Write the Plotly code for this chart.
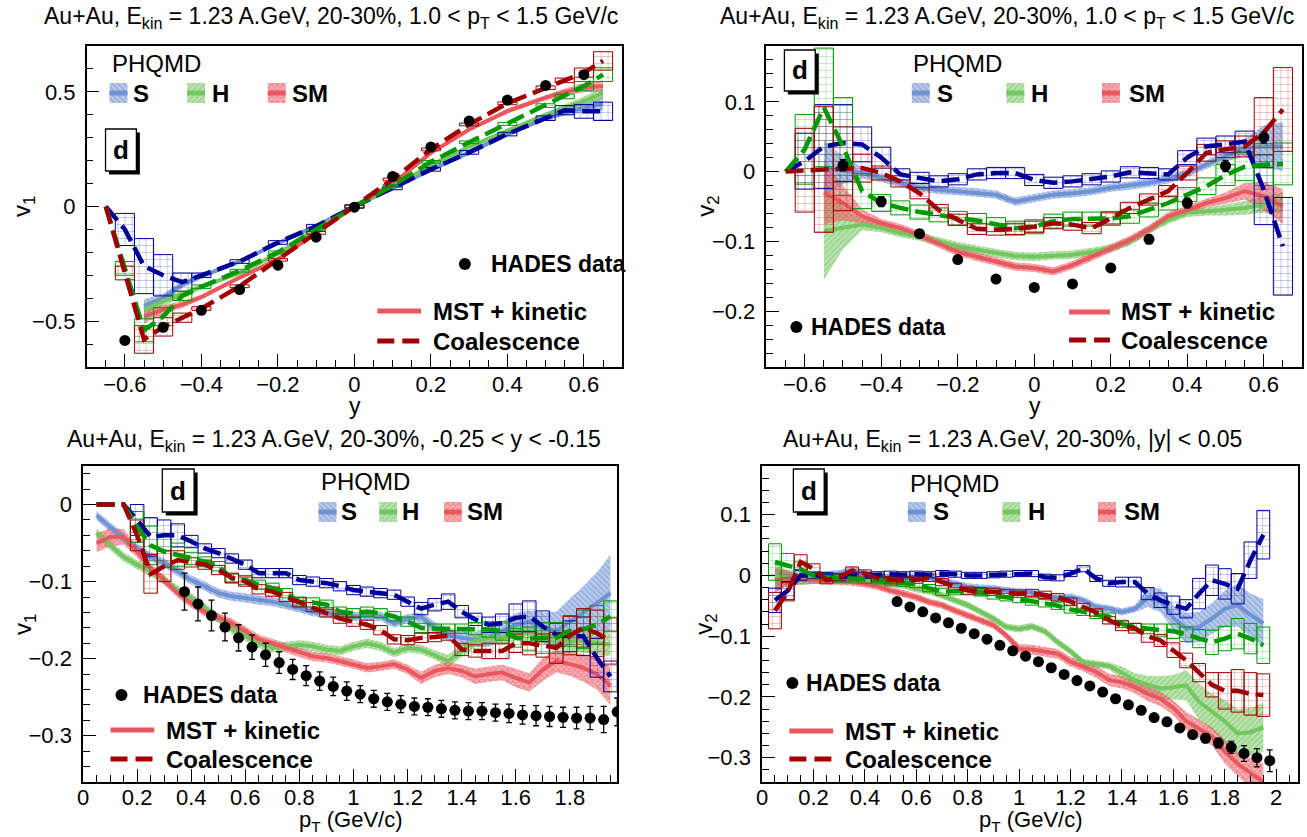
import plotly.graph_objects as go

W, H = 1307, 837
FONT = "Liberation Sans, Arial, Helvetica, sans-serif"

S_LIGHT, H_LIGHT, SM_LIGHT = '#6e92d4', '#74c660', '#e9585f'
S_BG, H_BG, SM_BG = 'rgba(110,146,212,0.45)', 'rgba(116,198,96,0.45)', 'rgba(233,88,95,0.45)'
S_DARK, H_DARK, SM_DARK = '#000099', '#009900', '#a00000'

# ---------------- Panel 1 : v1 vs y, 1.0 < pT < 1.5 ----------------
p1_coal_x = [-0.65, -0.6, -0.55, -0.5, -0.45, -0.4, -0.3, -0.2, -0.1, 0.0, 0.1, 0.2, 0.3, 0.4, 0.5, 0.55, 0.6, 0.65]
p1_s_coal = [0.0, -0.10, -0.26, -0.30, -0.33, -0.30, -0.24, -0.157, -0.086, 0.0, 0.081, 0.162, 0.236, 0.316, 0.385, 0.42, 0.415, 0.415]
p1_s_coal_err = [0.0, 0.07, 0.12, 0.09, 0.04, 0.01, 0.008, 0.008, 0.008, 0.008, 0.008, 0.008, 0.008, 0.008, 0.01, 0.02, 0.03, 0.04]
p1_h_coal = [0.0, -0.27, -0.54, -0.48, -0.39, -0.35, -0.28, -0.20, -0.10, 0.0, 0.09, 0.195, 0.28, 0.36, 0.44, 0.48, 0.525, 0.575]
p1_h_coal_err = [0.0, 0.03, 0.05, 0.04, 0.02, 0.008, 0.006, 0.006, 0.006, 0.006, 0.006, 0.006, 0.006, 0.006, 0.008, 0.01, 0.02, 0.03]
p1_sm_coal = [0.0, -0.29, -0.58, -0.525, -0.485, -0.445, -0.348, -0.232, -0.115, 0.0, 0.118, 0.249, 0.358, 0.45, 0.518, 0.55, 0.584, 0.635]
p1_sm_coal_err = [0.0, 0.03, 0.06, 0.04, 0.02, 0.008, 0.006, 0.006, 0.006, 0.006, 0.006, 0.006, 0.006, 0.006, 0.008, 0.01, 0.02, 0.04]
p1_mst_x = [-0.55, -0.5, -0.45, -0.4, -0.3, -0.2, -0.1, 0.0, 0.1, 0.2, 0.3, 0.4, 0.5, 0.55, 0.6, 0.65]
p1_s_mst = [-0.435, -0.40, -0.34, -0.305, -0.24, -0.16, -0.085, 0.0, 0.08, 0.16, 0.235, 0.315, 0.385, 0.41, 0.43, 0.45]
p1_s_mst_err = [0.03, 0.02, 0.015, 0.01, 0.008, 0.008, 0.008, 0.008, 0.008, 0.008, 0.008, 0.01, 0.01, 0.015, 0.02, 0.03]
p1_h_mst = [-0.45, -0.413, -0.384, -0.35, -0.29, -0.205, -0.10, 0.0, 0.085, 0.18, 0.26, 0.33, 0.40, 0.43, 0.46, 0.495]
p1_h_mst_err = [0.03, 0.02, 0.015, 0.01, 0.008, 0.008, 0.008, 0.008, 0.008, 0.008, 0.008, 0.01, 0.01, 0.015, 0.02, 0.025]
p1_sm_mst = [-0.48, -0.45, -0.428, -0.395, -0.31, -0.23, -0.115, 0.0, 0.10, 0.234, 0.336, 0.416, 0.475, 0.50, 0.518, 0.525]
p1_sm_mst_err = [0.03, 0.02, 0.015, 0.01, 0.008, 0.008, 0.008, 0.008, 0.008, 0.008, 0.008, 0.01, 0.01, 0.015, 0.02, 0.025]
p1_hades_x = [-0.6, -0.5, -0.4, -0.3, -0.2, -0.1, 0.0, 0.1, 0.2, 0.3, 0.4, 0.5, 0.6]
p1_hades_v = [-0.584, -0.527, -0.453, -0.362, -0.256, -0.134, -0.003, 0.131, 0.259, 0.373, 0.464, 0.528, 0.575]
p1_hades_err = [0.012, 0.01, 0.01, 0.008, 0.008, 0.008, 0.008, 0.008, 0.008, 0.008, 0.01, 0.01, 0.012]

# ---------------- Panel 2 : v2 vs y, 1.0 < pT < 1.5 ----------------
p2_coal_x = [-0.65, -0.6, -0.55, -0.5, -0.45, -0.4, -0.35, -0.3, -0.25, -0.2, -0.15, -0.1, -0.05, 0.0,
             0.05, 0.1, 0.15, 0.2, 0.25, 0.3, 0.35, 0.4, 0.45, 0.5, 0.55, 0.6, 0.65]
p2_s_coal = [0.0, 0.015, 0.036, 0.041, 0.039, 0.020, -0.004, -0.009, -0.014, -0.011, -0.004, -0.002, -0.002, -0.012,
             -0.016, -0.014, -0.011, -0.007, -0.001, -0.002, -0.004, 0.020, 0.036, 0.039, 0.043, -0.026, -0.107]
p2_s_coal_err = [0.0, 0.04, 0.06, 0.055, 0.025, 0.015, 0.008, 0.008, 0.008, 0.008, 0.008, 0.008, 0.008, 0.008,
                 0.008, 0.008, 0.008, 0.008, 0.008, 0.008, 0.008, 0.01, 0.012, 0.012, 0.015, 0.05, 0.07]
p2_h_coal = [0.0, 0.032, 0.092, 0.036, -0.028, -0.045, -0.052, -0.058, -0.062, -0.067, -0.070, -0.076, -0.081, -0.079,
             -0.071, -0.068, -0.068, -0.067, -0.064, -0.055, -0.045, -0.033, -0.021, -0.005, 0.007, 0.010, 0.011]
p2_h_coal_err = [0.0, 0.05, 0.085, 0.07, 0.025, 0.012, 0.01, 0.01, 0.01, 0.01, 0.01, 0.01, 0.01, 0.01,
                 0.01, 0.01, 0.01, 0.01, 0.01, 0.01, 0.01, 0.01, 0.012, 0.015, 0.02, 0.03, 0.03]
p2_sm_coal = [0.0, 0.002, 0.003, 0.004, 0.005, -0.002, -0.014, -0.031, -0.055, -0.069, -0.082, -0.083, -0.082, -0.079,
              -0.074, -0.076, -0.081, -0.067, -0.052, -0.040, -0.028, -0.002, 0.027, 0.032, 0.036, 0.056, 0.089]
p2_sm_coal_err = [0.0, 0.06, 0.09, 0.06, 0.02, 0.01, 0.008, 0.008, 0.008, 0.008, 0.008, 0.008, 0.008, 0.008,
                  0.008, 0.008, 0.008, 0.008, 0.008, 0.008, 0.008, 0.01, 0.012, 0.012, 0.015, 0.05, 0.06]
p2_mst_x = [-0.55, -0.5, -0.45, -0.4, -0.35, -0.3, -0.25, -0.2, -0.15, -0.1, -0.05, 0.0,
            0.05, 0.1, 0.15, 0.2, 0.25, 0.3, 0.35, 0.4, 0.45, 0.5, 0.55, 0.6, 0.65]
p2_s_mst = [0.005, 0.002, -0.002, -0.009, -0.016, -0.023, -0.026, -0.028, -0.030, -0.033, -0.043, -0.038,
            -0.033, -0.031, -0.028, -0.023, -0.020, -0.016, -0.011, -0.002, 0.010, 0.022, 0.034, 0.036, 0.036]
p2_s_mst_err = [0.04, 0.02, 0.008, 0.006, 0.006, 0.006, 0.006, 0.006, 0.006, 0.006, 0.006, 0.006,
                0.006, 0.006, 0.006, 0.006, 0.006, 0.006, 0.006, 0.006, 0.006, 0.008, 0.012, 0.03, 0.035]
p2_h_mst = [-0.085, -0.081, -0.076, -0.081, -0.088, -0.093, -0.100, -0.107, -0.112, -0.117, -0.121, -0.122,
            -0.120, -0.119, -0.115, -0.110, -0.100, -0.083, -0.069, -0.059, -0.057, -0.055, -0.052, -0.047, -0.045]
p2_h_mst_err = [0.07, 0.03, 0.008, 0.006, 0.006, 0.006, 0.006, 0.006, 0.006, 0.006, 0.006, 0.006,
                0.006, 0.006, 0.006, 0.006, 0.006, 0.006, 0.006, 0.006, 0.006, 0.008, 0.01, 0.012, 0.015]
p2_sm_mst = [-0.03, -0.045, -0.064, -0.074, -0.081, -0.091, -0.103, -0.115, -0.122, -0.129, -0.136, -0.138,
             -0.143, -0.134, -0.122, -0.110, -0.098, -0.083, -0.064, -0.055, -0.045, -0.038, -0.028, -0.035, -0.050]
p2_sm_mst_err = [0.045, 0.025, 0.01, 0.006, 0.006, 0.006, 0.006, 0.006, 0.006, 0.006, 0.006, 0.006,
                 0.006, 0.006, 0.006, 0.006, 0.006, 0.006, 0.006, 0.006, 0.006, 0.008, 0.012, 0.02, 0.025]
p2_hades_x = [-0.5, -0.4, -0.3, -0.2, -0.1, 0.0, 0.1, 0.2, 0.3, 0.4, 0.5, 0.6]
p2_hades_v = [0.009, -0.043, -0.089, -0.126, -0.154, -0.166, -0.161, -0.138, -0.097, -0.045, 0.008, 0.049]
p2_hades_err = [0.008, 0.007, 0.006, 0.005, 0.005, 0.005, 0.005, 0.005, 0.006, 0.007, 0.008, 0.008]

# ---------------- Panel 3 : v1 vs pT, -0.25 < y < -0.15 ----------------
pt_x = [0.05, 0.1, 0.15, 0.2, 0.25, 0.3, 0.35, 0.4, 0.45, 0.5, 0.55, 0.6, 0.65, 0.7, 0.75, 0.8, 0.85, 0.9, 0.95, 1.0,
        1.05, 1.1, 1.15, 1.2, 1.25, 1.3, 1.35, 1.4, 1.45, 1.5, 1.55, 1.6, 1.65, 1.7, 1.75, 1.8, 1.85, 1.9, 1.95]
p3_s_mst = [-0.014, -0.029, -0.044, -0.057, -0.068, -0.076, -0.087, -0.098, -0.106, -0.115,
            -0.119, -0.121, -0.124, -0.126, -0.130, -0.134, -0.139, -0.141, -0.143, -0.145,
            -0.145, -0.145, -0.154, -0.148, -0.146, -0.160, -0.169, -0.173, -0.175, -0.173,
            -0.164, -0.156, -0.152, -0.160, -0.164, -0.152, -0.141, -0.128, -0.115]
p3_s_mst_err = [0.006, 0.006, 0.006, 0.006, 0.006, 0.006, 0.006, 0.006, 0.006, 0.006,
                0.006, 0.006, 0.006, 0.006, 0.006, 0.006, 0.006, 0.006, 0.006, 0.006,
                0.006, 0.006, 0.006, 0.006, 0.006, 0.008, 0.008, 0.01, 0.01, 0.012,
                0.012, 0.015, 0.015, 0.02, 0.025, 0.03, 0.035, 0.04, 0.05]
p3_h_mst = [-0.037, -0.053, -0.068, -0.078, -0.087, -0.098, -0.111, -0.121, -0.134, -0.147,
            -0.162, -0.171, -0.180, -0.186, -0.184, -0.182, -0.184, -0.188, -0.190, -0.184,
            -0.180, -0.184, -0.192, -0.186, -0.188, -0.195, -0.203, -0.190, -0.177, -0.173,
            -0.173, -0.167, -0.167, -0.169, -0.173, -0.177, -0.177, -0.180, -0.182]
p3_h_mst_err = [0.006, 0.006, 0.006, 0.006, 0.006, 0.006, 0.006, 0.006, 0.006, 0.006,
                0.006, 0.006, 0.006, 0.006, 0.006, 0.006, 0.006, 0.006, 0.006, 0.006,
                0.006, 0.006, 0.006, 0.006, 0.006, 0.006, 0.008, 0.008, 0.008, 0.008,
                0.01, 0.01, 0.01, 0.01, 0.012, 0.015, 0.015, 0.015, 0.015]
p3_sm_mst = [-0.050, -0.042, -0.042, -0.061, -0.083, -0.098, -0.115, -0.128, -0.139, -0.147,
             -0.154, -0.164, -0.175, -0.180, -0.186, -0.192, -0.197, -0.199, -0.203, -0.207,
             -0.212, -0.210, -0.207, -0.214, -0.225, -0.216, -0.212, -0.216, -0.223, -0.220,
             -0.218, -0.225, -0.231, -0.214, -0.203, -0.207, -0.212, -0.220, -0.235]
p3_sm_mst_err = [0.012, 0.012, 0.01, 0.008, 0.006, 0.006, 0.006, 0.006, 0.006, 0.006,
                 0.006, 0.006, 0.006, 0.006, 0.006, 0.006, 0.006, 0.006, 0.006, 0.006,
                 0.006, 0.006, 0.006, 0.006, 0.008, 0.008, 0.008, 0.008, 0.01, 0.01,
                 0.01, 0.012, 0.012, 0.015, 0.015, 0.015, 0.018, 0.02, 0.025]
p3_s_coal = [0.0, 0.0, 0.0, -0.020, -0.042, -0.040, -0.040, -0.048, -0.057, -0.063,
             -0.070, -0.078, -0.089, -0.089, -0.089, -0.098, -0.100, -0.102, -0.106, -0.111,
             -0.113, -0.115, -0.117, -0.126, -0.135, -0.130, -0.126, -0.139, -0.149, -0.156,
             -0.154, -0.147, -0.145, -0.158, -0.169, -0.171, -0.171, -0.199, -0.223]
p3_s_coal_err = [0.0, 0.0, 0.0, 0.02, 0.025, 0.02, 0.015, 0.008, 0.006, 0.006,
                 0.006, 0.006, 0.006, 0.006, 0.006, 0.006, 0.006, 0.006, 0.006, 0.006,
                 0.006, 0.006, 0.006, 0.006, 0.008, 0.008, 0.01, 0.008, 0.008, 0.01,
                 0.012, 0.018, 0.02, 0.02, 0.015, 0.02, 0.025, 0.025, 0.02]
p3_h_coal = [0.0, 0.0, 0.0, -0.029, -0.053, -0.061, -0.065, -0.070, -0.074, -0.080,
             -0.096, -0.098, -0.104, -0.108, -0.115, -0.126, -0.127, -0.130, -0.139, -0.141,
             -0.139, -0.141, -0.145, -0.152, -0.160, -0.161, -0.161, -0.161, -0.161, -0.162,
             -0.164, -0.173, -0.174, -0.173, -0.173, -0.164, -0.162, -0.156, -0.145]
p3_h_coal_err = [0.0, 0.0, 0.0, 0.02, 0.025, 0.02, 0.015, 0.008, 0.006, 0.006,
                 0.006, 0.006, 0.006, 0.006, 0.006, 0.006, 0.006, 0.006, 0.006, 0.006,
                 0.006, 0.006, 0.006, 0.006, 0.006, 0.006, 0.006, 0.006, 0.008, 0.01,
                 0.012, 0.012, 0.015, 0.02, 0.02, 0.02, 0.025, 0.025, 0.02]
p3_sm_coal = [0.0, 0.0, 0.0, -0.040, -0.090, -0.080, -0.072, -0.075, -0.078, -0.085,
              -0.095, -0.100, -0.110, -0.113, -0.120, -0.127, -0.133, -0.140, -0.148, -0.152,
              -0.156, -0.163, -0.175, -0.176, -0.173, -0.172, -0.170, -0.188, -0.190, -0.190,
              -0.190, -0.180, -0.180, -0.183, -0.186, -0.170, -0.160, -0.167, -0.177]
p3_sm_coal_err = [0.0, 0.0, 0.0, 0.02, 0.025, 0.02, 0.012, 0.006, 0.006, 0.006,
                  0.006, 0.006, 0.006, 0.006, 0.006, 0.006, 0.006, 0.006, 0.006, 0.006,
                  0.006, 0.006, 0.006, 0.006, 0.006, 0.006, 0.006, 0.008, 0.008, 0.01,
                  0.01, 0.012, 0.015, 0.015, 0.02, 0.025, 0.025, 0.03, 0.03]
p3_hades_x = [0.375, 0.425, 0.475, 0.525, 0.575, 0.625, 0.675, 0.725, 0.775, 0.825, 0.875, 0.925, 0.975,
              1.025, 1.075, 1.125, 1.175, 1.225, 1.275, 1.325, 1.375, 1.425, 1.475, 1.525, 1.575, 1.625,
              1.675, 1.725, 1.775, 1.825, 1.875, 1.925, 1.975]
p3_hades_v = [-0.113, -0.129, -0.144, -0.159, -0.173, -0.185, -0.195, -0.205, -0.214, -0.222, -0.229, -0.236, -0.242,
              -0.246, -0.252, -0.256, -0.259, -0.262, -0.263, -0.265, -0.267, -0.268, -0.268, -0.270, -0.271, -0.273,
              -0.274, -0.275, -0.276, -0.277, -0.277, -0.279, -0.269]
p3_hades_err = [0.024, 0.022, 0.02, 0.018, 0.017, 0.016, 0.015, 0.014, 0.013, 0.013, 0.012, 0.012, 0.012,
                0.011, 0.011, 0.011, 0.011, 0.011, 0.011, 0.011, 0.011, 0.011, 0.011, 0.011, 0.012, 0.012,
                0.013, 0.013, 0.013, 0.014, 0.015, 0.017, 0.018]
p3_hades_xhalf = 0.02

# ---------------- Panel 4 : v2 vs pT, |y| < 0.05 ----------------
p4_s_mst = [-0.008, -0.003, 0.000, 0.000, 0.001, 0.003, 0.008, 0.003, -0.003, -0.004,
            -0.005, -0.005, -0.004, -0.008, -0.014, -0.019, -0.021, -0.022, -0.025, -0.027,
            -0.028, -0.035, -0.038, -0.036, -0.041, -0.052, -0.055, -0.060, -0.055, -0.037,
            -0.041, -0.070, -0.087, -0.085, -0.071, -0.055, -0.049, -0.065, -0.079]
p4_s_mst_err = [0.02, 0.012, 0.008, 0.006, 0.006, 0.006, 0.006, 0.006, 0.006, 0.006,
                0.006, 0.006, 0.006, 0.006, 0.006, 0.006, 0.006, 0.006, 0.006, 0.006,
                0.006, 0.006, 0.006, 0.006, 0.006, 0.006, 0.006, 0.006, 0.006, 0.015,
                0.02, 0.02, 0.025, 0.025, 0.025, 0.03, 0.035, 0.035, 0.04]
p4_h_mst = [0.000, -0.005, -0.008, -0.008, -0.008, -0.008, -0.007, -0.008, -0.011, -0.014,
            -0.016, -0.022, -0.026, -0.033, -0.041, -0.049, -0.060, -0.071, -0.085, -0.088,
            -0.084, -0.092, -0.110, -0.125, -0.143, -0.146, -0.149, -0.160, -0.173, -0.180,
            -0.186, -0.184, -0.181, -0.208, -0.225, -0.240, -0.260, -0.258, -0.250]
p4_h_mst_err = [0.02, 0.012, 0.008, 0.006, 0.006, 0.006, 0.006, 0.006, 0.006, 0.006,
                0.006, 0.006, 0.006, 0.006, 0.006, 0.006, 0.006, 0.006, 0.006, 0.006,
                0.006, 0.006, 0.006, 0.006, 0.006, 0.006, 0.006, 0.01, 0.012, 0.015,
                0.02, 0.02, 0.025, 0.03, 0.03, 0.035, 0.04, 0.04, 0.04]
p4_sm_mst = [-0.008, -0.005, -0.007, -0.008, -0.008, -0.010, -0.011, -0.014, -0.018, -0.025,
             -0.030, -0.036, -0.044, -0.049, -0.058, -0.066, -0.074, -0.082, -0.099, -0.121,
             -0.122, -0.126, -0.129, -0.142, -0.150, -0.159, -0.172, -0.176, -0.184, -0.195,
             -0.203, -0.218, -0.240, -0.252, -0.265, -0.290, -0.310, -0.325, -0.340]
p4_sm_mst_err = [0.02, 0.012, 0.008, 0.006, 0.006, 0.006, 0.006, 0.006, 0.006, 0.006,
                 0.006, 0.006, 0.006, 0.006, 0.006, 0.006, 0.006, 0.006, 0.006, 0.008,
                 0.008, 0.008, 0.008, 0.008, 0.008, 0.01, 0.01, 0.01, 0.01, 0.012,
                 0.012, 0.012, 0.015, 0.015, 0.015, 0.02, 0.02, 0.025, 0.03]
p4_s_coal = [-0.041, -0.025, 0.000, 0.000, 0.000, -0.003, 0.000, 0.000, 0.001, 0.002,
             0.001, 0.002, 0.001, 0.003, 0.002, 0.000, 0.000, 0.001, 0.002, 0.003,
             0.003, -0.003, -0.004, 0.003, 0.011, -0.005, -0.013, -0.011, -0.011, -0.030,
             -0.041, -0.049, -0.055, -0.030, -0.008, -0.014, -0.022, 0.025, 0.067]
p4_s_coal_err = [0.02, 0.015, 0.008, 0.005, 0.005, 0.005, 0.005, 0.005, 0.005, 0.005,
                 0.005, 0.005, 0.005, 0.005, 0.005, 0.005, 0.005, 0.005, 0.005, 0.005,
                 0.005, 0.005, 0.005, 0.005, 0.005, 0.005, 0.005, 0.008, 0.008, 0.01,
                 0.012, 0.015, 0.015, 0.025, 0.025, 0.025, 0.025, 0.03, 0.04]
p4_h_coal = [0.022, 0.016, 0.010, 0.000, -0.003, -0.005, -0.005, -0.007, -0.008, -0.011,
             -0.012, -0.014, -0.021, -0.027, -0.026, -0.026, -0.028, -0.033, -0.036, -0.039,
             -0.043, -0.046, -0.050, -0.056, -0.060, -0.065, -0.068, -0.080, -0.085, -0.088,
             -0.090, -0.092, -0.097, -0.104, -0.110, -0.104, -0.096, -0.104, -0.115]
p4_h_coal_err = [0.03, 0.02, 0.012, 0.006, 0.006, 0.006, 0.006, 0.006, 0.006, 0.006,
                 0.006, 0.006, 0.006, 0.006, 0.006, 0.006, 0.006, 0.006, 0.006, 0.006,
                 0.006, 0.006, 0.006, 0.006, 0.006, 0.006, 0.006, 0.006, 0.006, 0.008,
                 0.01, 0.012, 0.012, 0.015, 0.02, 0.02, 0.025, 0.025, 0.03]
p4_sm_coal = [-0.058, -0.027, 0.022, 0.011, -0.008, -0.003, 0.008, 0.003, -0.005, -0.008,
              -0.008, -0.007, -0.004, -0.011, -0.019, -0.025, -0.026, -0.027, -0.029, -0.030,
              -0.029, -0.032, -0.036, -0.043, -0.052, -0.061, -0.074, -0.083, -0.087, -0.100,
              -0.107, -0.123, -0.140, -0.160, -0.180, -0.190, -0.190, -0.195, -0.197]
p4_sm_coal_err = [0.03, 0.015, 0.012, 0.008, 0.006, 0.006, 0.006, 0.006, 0.006, 0.006,
                  0.006, 0.006, 0.006, 0.006, 0.006, 0.006, 0.006, 0.006, 0.006, 0.006,
                  0.006, 0.006, 0.006, 0.006, 0.006, 0.006, 0.006, 0.008, 0.008, 0.01,
                  0.01, 0.012, 0.012, 0.015, 0.02, 0.03, 0.035, 0.035, 0.035]
p4_hades_x = [0.525, 0.575, 0.625, 0.675, 0.725, 0.775, 0.825, 0.875, 0.925, 0.975,
              1.025, 1.075, 1.125, 1.175, 1.225, 1.275, 1.325, 1.375, 1.425, 1.475,
              1.525, 1.575, 1.625, 1.675, 1.725, 1.775, 1.825, 1.875, 1.925, 1.975]
p4_hades_v = [-0.043, -0.052, -0.060, -0.070, -0.078, -0.087, -0.096, -0.105, -0.115, -0.124,
              -0.133, -0.142, -0.152, -0.163, -0.173, -0.182, -0.192, -0.203, -0.213, -0.222,
              -0.234, -0.241, -0.251, -0.262, -0.268, -0.276, -0.283, -0.293, -0.300, -0.305]
p4_hades_err = [0.003, 0.003, 0.003, 0.003, 0.003, 0.003, 0.003, 0.003, 0.003, 0.003,
                0.003, 0.003, 0.003, 0.003, 0.003, 0.003, 0.003, 0.004, 0.004, 0.004,
                0.004, 0.005, 0.005, 0.006, 0.007, 0.008, 0.01, 0.013, 0.015, 0.018]

BIN_HALF = 0.025

fig = go.Figure()


def band(x, v, e, color, bg, shape, xa, ya):
    up = [a + b for a, b in zip(v, e)]
    lo = [a - b for a, b in zip(v, e)]
    fig.add_trace(go.Scatter(
        x=list(x) + list(x)[::-1], y=up + lo[::-1], mode='none', fill='toself',
        fillpattern=dict(shape=shape, fgcolor=color, bgcolor=bg, size=4, solidity=0.5),
        xaxis=xa, yaxis=ya, hoverinfo='skip', showlegend=False))


def mst_line(x, v, color, xa, ya):
    fig.add_trace(go.Scatter(x=x, y=v, mode='lines', line=dict(color=color, width=4),
                             xaxis=xa, yaxis=ya, hoverinfo='skip', showlegend=False))


def coal(x, v, e, color, xa, ya):
    xs, ys = [], []
    for xi, vi, ei in zip(x, v, e):
        if ei <= 0:
            continue
        xs += [xi - BIN_HALF, xi + BIN_HALF, xi + BIN_HALF, xi - BIN_HALF, xi - BIN_HALF, None]
        ys += [vi - ei, vi - ei, vi + ei, vi + ei, vi - ei, None]
    fig.add_trace(go.Scatter(
        x=xs, y=ys, mode='lines', fill='toself', line=dict(color=color, width=1),
        fillpattern=dict(shape='+', fgcolor=color, bgcolor='rgba(255,255,255,0)', size=7, solidity=0.12),
        xaxis=xa, yaxis=ya, hoverinfo='skip', showlegend=False))


def coal_line(x, v, color, xa, ya):
    fig.add_trace(go.Scatter(x=x, y=v, mode='lines', line=dict(color=color, width=4.5, dash='18px,7px'),
                             xaxis=xa, yaxis=ya, hoverinfo='skip', showlegend=False))


def hades(x, v, e, xa, ya, xhalf=None):
    ex = dict(type='data', array=[xhalf] * len(x), color='black', thickness=1.3, width=0) if xhalf else None
    fig.add_trace(go.Scatter(
        x=x, y=v, mode='markers', marker=dict(color='black', size=11),
        error_y=dict(type='data', array=e, color='black', thickness=1.3, width=3),
        error_x=ex, xaxis=xa, yaxis=ya, hoverinfo='skip', showlegend=False))


panels = [
    ('x', 'y', p1_mst_x, p1_s_mst, p1_s_mst_err, p1_h_mst, p1_h_mst_err, p1_sm_mst, p1_sm_mst_err,
     p1_coal_x, p1_s_coal, p1_s_coal_err, p1_h_coal, p1_h_coal_err, p1_sm_coal, p1_sm_coal_err,
     p1_hades_x, p1_hades_v, p1_hades_err, None),
    ('x2', 'y2', p2_mst_x, p2_s_mst, p2_s_mst_err, p2_h_mst, p2_h_mst_err, p2_sm_mst, p2_sm_mst_err,
     p2_coal_x, p2_s_coal, p2_s_coal_err, p2_h_coal, p2_h_coal_err, p2_sm_coal, p2_sm_coal_err,
     p2_hades_x, p2_hades_v, p2_hades_err, None),
    ('x3', 'y3', pt_x, p3_s_mst, p3_s_mst_err, p3_h_mst, p3_h_mst_err, p3_sm_mst, p3_sm_mst_err,
     pt_x, p3_s_coal, p3_s_coal_err, p3_h_coal, p3_h_coal_err, p3_sm_coal, p3_sm_coal_err,
     p3_hades_x, p3_hades_v, p3_hades_err, p3_hades_xhalf),
    ('x4', 'y4', pt_x, p4_s_mst, p4_s_mst_err, p4_h_mst, p4_h_mst_err, p4_sm_mst, p4_sm_mst_err,
     pt_x, p4_s_coal, p4_s_coal_err, p4_h_coal, p4_h_coal_err, p4_sm_coal, p4_sm_coal_err,
     p4_hades_x, p4_hades_v, p4_hades_err, None),
]

for (xa, ya, mx, sm_, sme, hm, hme, smm, smme, cx, sc, sce, hc, hce, smc, smce, hx, hv, he, xh) in panels:
    band(mx, sm_, sme, S_LIGHT, S_BG, '\\', xa, ya)
    band(mx, hm, hme, H_LIGHT, H_BG, '/', xa, ya)
    band(mx, smm, smme, SM_LIGHT, SM_BG, 'x', xa, ya)
    mst_line(mx, sm_, S_LIGHT, xa, ya)
    mst_line(mx, hm, H_LIGHT, xa, ya)
    mst_line(mx, smm, SM_LIGHT, xa, ya)
    coal(cx, sc, sce, S_DARK, xa, ya)
    coal(cx, hc, hce, H_DARK, xa, ya)
    coal(cx, smc, smce, SM_DARK, xa, ya)
    coal_line(cx, sc, S_DARK, xa, ya)
    coal_line(cx, hc, H_DARK, xa, ya)
    coal_line(cx, smc, SM_DARK, xa, ya)
    hades(hx, hv, he, xa, ya, xh)


def axis(domain, rng, dtick, minor, anchor, standoff=-3):
    return dict(domain=domain, range=rng, dtick=dtick, tick0=0, ticks='inside', ticklen=13, tickwidth=1.2,
                tickcolor='black', ticklabelstandoff=standoff,
                minor=dict(dtick=minor, ticklen=7, tickwidth=1.2, tickcolor='black', ticks='inside', showgrid=False),
                showline=True, mirror=True, linecolor='black', linewidth=1.5, showgrid=False, zeroline=False,
                tickfont=dict(family=FONT, size=22, color='black'), anchor=anchor, fixedrange=True)


def xd(a, b):
    return [a / W, b / W]


def yd(top, bot):
    return [1 - bot / H, 1 - top / H]


layout = dict(
    width=W, height=H, margin=dict(l=0, r=0, t=0, b=0), autosize=False,
    paper_bgcolor='white', plot_bgcolor='rgba(0,0,0,0)', showlegend=False,
    font=dict(family=FONT, color='black', size=22),
    xaxis=axis(xd(81, 619), [-0.7, 0.7], 0.2, 0.05, 'y'),
    yaxis=axis(yd(46, 367), [-0.7, 0.7], 0.5, 0.1, 'x', 5),
    xaxis2=axis(xd(764, 1302), [-0.7, 0.7], 0.2, 0.05, 'y2'),
    yaxis2=axis(yd(46, 367), [-0.28, 0.18], 0.1, 0.02, 'x2', 5),
    xaxis3=axis(xd(77.4, 614), [0, 1.975], 0.2, 0.05, 'y3', -5),
    yaxis3=axis(yd(466, 782), [-0.36, 0.05], 0.1, 0.02, 'x3', 5),
    xaxis4=axis(xd(759.6, 1298), [0, 2.085], 0.2, 0.05, 'y4', -5),
    yaxis4=axis(yd(466, 782), [-0.34, 0.18], 0.1, 0.02, 'x4', 5),
    xaxis5=dict(domain=[0, 1], range=[0, W], visible=False, anchor='y5', fixedrange=True),
    yaxis5=dict(domain=[0, 1], range=[H, 0], visible=False, anchor='x5', fixedrange=True),
)
fig.update_layout(**layout)

annotations = []
shapes = []


def ann(text, px, py, size, xanchor='left', angle=0):
    annotations.append(dict(text=text, x=px / W, y=1 - py / H, xref='paper', yref='paper', showarrow=False,
                            xanchor=xanchor, yanchor='middle', textangle=angle,
                            font=dict(family=FONT, size=size, color='black')))


# titles
ann('Au+Au, E<sub>kin</sub> = 1.23 A.GeV, 20-30%, 1.0 &lt; p<sub>T</sub> &lt; 1.5 GeV/c', 326, 18, 23, 'center')
ann('Au+Au, E<sub>kin</sub> = 1.23 A.GeV, 20-30%, 1.0 &lt; p<sub>T</sub> &lt; 1.5 GeV/c', 1006, 18, 23, 'center')
ann('Au+Au, E<sub>kin</sub> = 1.23 A.GeV, 20-30%, -0.25 &lt; y &lt; -0.15', 330, 440, 23, 'center')
ann('Au+Au, E<sub>kin</sub> = 1.23 A.GeV, 20-30%, |y| &lt; 0.05', 1011, 440, 23, 'center')
# axis titles
ann('y', 351, 406, 23, 'center')
ann('y', 1034, 406, 23, 'center')
ann('p<sub>T</sub> (GeV/c)', 347, 821, 22, 'center')
ann('p<sub>T</sub> (GeV/c)', 1030, 821, 22, 'center')
ann('v<sub>1</sub>', 18, 206, 24, 'center', -90)
ann('v<sub>2</sub>', 705, 206, 24, 'center', -90)
ann('v<sub>1</sub>', 18, 624, 24, 'center', -90)
ann('v<sub>2</sub>', 702, 624, 24, 'center', -90)

legend_specs = [
    dict(phqmd=(104, 63), row=93, sw=[(104, 126, 'S', S_LIGHT, S_BG, '\\'), (182, 205, 'H', H_LIGHT, H_BG, '/'),
                                      (263, 285, 'SM', SM_LIGHT, SM_BG, 'x')],
         dbox=(100, 129, 131, 171), hades=(461, 264, 485), mst=(373, 417, 311, 427), coal=(373, 417, 341, 427)),
    dict(phqmd=(909, 63), row=93, sw=[(910, 933, 'S', S_LIGHT, S_BG, '\\'), (1005, 1028, 'H', H_LIGHT, H_BG, '/'),
                                      (1101, 1126, 'SM', SM_LIGHT, SM_BG, 'x')],
         dbox=(782, 50, 813, 91), hades=(794, 327, 807), mst=(1068, 1109, 312, 1118), coal=(1068, 1109, 340, 1118)),
    dict(phqmd=(314, 481), row=512, sw=[(314, 335, 'S', S_LIGHT, S_BG, '\\'), (375, 396, 'H', H_LIGHT, H_BG, '/'),
                                        (440, 461, 'SM', SM_LIGHT, SM_BG, 'x')],
         dbox=(157, 469, 189, 512), hades=(116, 695, 136), mst=(105, 149, 730, 159), coal=(105, 149, 759, 159)),
    dict(phqmd=(906, 483), row=512, sw=[(906, 929, 'S', S_LIGHT, S_BG, '\\'), (1001, 1025, 'H', H_LIGHT, H_BG, '/'),
                                        (1097, 1121, 'SM', SM_LIGHT, SM_BG, 'x')],
         dbox=(791, 469, 822, 512), hades=(790, 683, 802), mst=(787, 831, 731, 841), coal=(787, 831, 759, 841)),
]

for spec in legend_specs:
    px, py = spec['phqmd']
    ann('PHQMD', px, py, 24)
    ry = spec['row']
    for sx, tx, name, col, bg, shp in spec['sw']:
        fig.add_trace(go.Scatter(
            x=[sx, sx + 18, sx + 18, sx, sx], y=[ry - 10, ry - 10, ry + 10, ry + 10, ry - 10],
            mode='none', fill='toself', fillpattern=dict(shape=shp, fgcolor=col, bgcolor=bg, size=4, solidity=0.5),
            xaxis='x5', yaxis='y5', hoverinfo='skip', showlegend=False))
        fig.add_trace(go.Scatter(x=[sx, sx + 18], y=[ry, ry], mode='lines', line=dict(color=col, width=5),
                                 xaxis='x5', yaxis='y5', hoverinfo='skip', showlegend=False))
        ann('<b>%s</b>' % name, tx, ry, 24)
    hx, hy, htx = spec['hades']
    fig.add_trace(go.Scatter(x=[hx], y=[hy], mode='markers', marker=dict(color='black', size=12),
                             xaxis='x5', yaxis='y5', hoverinfo='skip', showlegend=False))
    ann('<b>HADES data</b>', htx, hy, 23)
    x0, x1, ly, tx = spec['mst']
    fig.add_trace(go.Scatter(x=[x0, x1], y=[ly, ly], mode='lines', line=dict(color=SM_LIGHT, width=5),
                             xaxis='x5', yaxis='y5', hoverinfo='skip', showlegend=False))
    ann('<b>MST + kinetic</b>', tx, ly, 24)
    x0, x1, ly, tx = spec['coal']
    fig.add_trace(go.Scatter(x=[x0, x1], y=[ly, ly], mode='lines', line=dict(color=SM_DARK, width=5, dash='17px,8px'),
                             xaxis='x5', yaxis='y5', hoverinfo='skip', showlegend=False))
    ann('<b>Coalescence</b>', tx, ly, 24)
    bx0, by0, bx1, by1 = spec['dbox']
    shapes.append(dict(type='rect', xref='paper', yref='paper', x0=(bx0 + 3.5) / W, x1=(bx1 + 3.5) / W,
                       y0=1 - (by1 + 3.5) / H, y1=1 - (by0 + 3.5) / H, fillcolor='black', line=dict(width=0),
                       layer='above'))
    shapes.append(dict(type='rect', xref='paper', yref='paper', x0=bx0 / W, x1=bx1 / W,
                       y0=1 - by1 / H, y1=1 - by0 / H, fillcolor='white', line=dict(color='black', width=1.3),
                       layer='above'))
    ann('<b>d</b>', (bx0 + bx1) / 2, (by0 + by1) / 2, 26, 'center')

fig.update_layout(annotations=annotations, shapes=shapes)
fig.write_html("out.html")
